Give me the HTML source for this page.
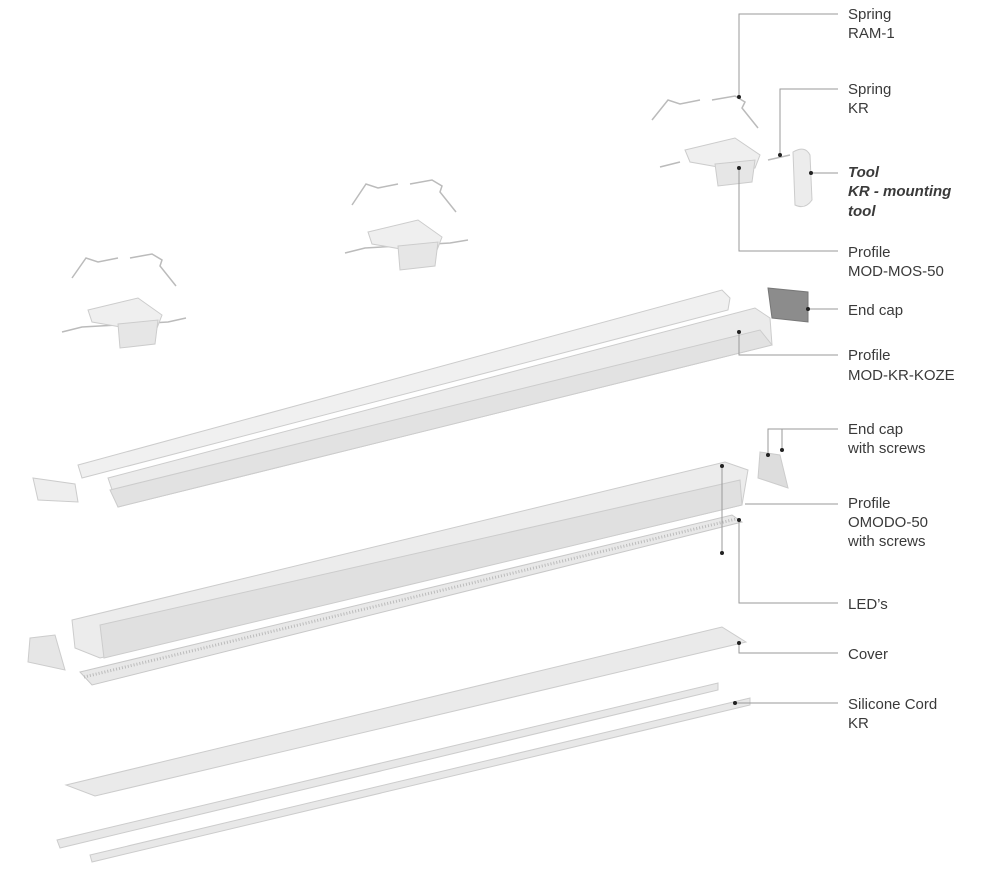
<!DOCTYPE html>
<html><head><meta charset="utf-8"><style>
html,body{margin:0;padding:0;background:#fff;}
svg{display:block}
text{font-family:"Liberation Sans",sans-serif;font-size:15px;fill:#3a3a3a}
</style></head><body>
<svg width="996" height="870" viewBox="0 0 996 870" xmlns="http://www.w3.org/2000/svg">
<!-- clips -->
<g fill="none" stroke="#bbb" stroke-width="1.5">
<path d="M652,120 L668,100 L680,104 L700,100 M712,100 L735,96 L745,102 L742,108 L758,128"/>
<path d="M352,205 L366,184 L378,188 L398,184 M410,184 L432,180 L442,186 L440,192 L456,212"/>
<path d="M72,278 L86,258 L98,262 L118,258 M130,258 L152,254 L162,260 L160,266 L176,286"/>
<path d="M660,167 L680,162 M768,160 L790,155 M345,253 L365,248 L450,243 L468,240 M62,332 L82,327 L168,322 L186,318"/>
</g>
<g stroke="#ccc" stroke-width="1">
<polygon points="685,150 735,138 760,155 755,168 735,170 690,162" fill="#efefef"/>
<polygon points="715,164 755,160 752,182 718,186" fill="#e6e6e6"/>
<polygon points="368,232 418,220 442,237 437,250 418,252 372,244" fill="#efefef"/>
<polygon points="398,246 438,242 435,266 400,270" fill="#e6e6e6"/>
<polygon points="88,310 138,298 162,315 157,328 138,330 92,322" fill="#efefef"/>
<polygon points="118,324 158,320 155,344 120,348" fill="#e6e6e6"/>
<path d="M793,152 Q805,145 810,155 L812,200 Q805,210 795,205 Z" fill="#ececec"/>
<polygon points="768,288 808,292 808,322 772,318" fill="#8c8c8c" stroke="#777"/>
<polygon points="78,465 722,290 730,298 728,310 82,478" fill="#f0f0f0"/>
<polygon points="108,478 755,308 770,318 772,345 118,507" fill="#ebebeb"/>
<polygon points="110,490 760,330 772,345 118,507" fill="#e2e2e2"/>
<polygon points="33,478 75,484 78,502 38,500" fill="#eee"/>
<polygon points="760,452 780,455 788,488 758,478" fill="#ddd"/>
<polygon points="72,620 725,462 748,470 742,505 100,658 75,648" fill="#ececec"/>
<polygon points="100,625 740,480 742,505 104,658" fill="#e0e0e0"/>
<polygon points="30,638 55,635 65,670 28,662" fill="#e6e6e6"/>
<polygon points="80,672 732,515 742,522 92,685" fill="#e8e8e8" stroke="#c8c8c8"/>
<line x1="84" y1="677" x2="736" y2="519" stroke="#bbb" stroke-dasharray="1 2" stroke-width="3"/>
<polygon points="66,785 722,627 746,642 95,796" fill="#eaeaea"/>
<polygon points="57,840 718,683 718,690 60,848" fill="#e8e8e8"/>
<polygon points="90,855 750,698 750,705 92,862" fill="#e8e8e8"/>
</g>
<g fill="none" stroke="#9a9a9a" stroke-width="1">
<polyline points="739,97 739,14 838,14"/>
<polyline points="780,155 780,89 838,89"/>
<polyline points="811,173 838,173"/>
<polyline points="739,168 739,251 838,251"/>
<polyline points="808,309 838,309"/>
<polyline points="739,332 739,355 838,355"/>
<polyline points="768,455 768,429 838,429"/>
<polyline points="782,450 782,429"/>
<polyline points="745,504 838,504"/>
<polyline points="722,466 722,553"/>
<polyline points="739,520 739,603 838,603"/>
<polyline points="739,643 739,653 838,653"/>
<polyline points="735,703 838,703"/>
</g>
<g fill="#222">
<circle cx="739" cy="97" r="2"/><circle cx="780" cy="155" r="2"/><circle cx="811" cy="173" r="2"/>
<circle cx="739" cy="168" r="2"/><circle cx="808" cy="309" r="2"/><circle cx="739" cy="332" r="2"/>
<circle cx="768" cy="455" r="2"/><circle cx="782" cy="450" r="2"/><circle cx="722" cy="466" r="2"/>
<circle cx="722" cy="553" r="2"/><circle cx="739" cy="520" r="2"/><circle cx="739" cy="643" r="2"/>
<circle cx="735" cy="703" r="2"/>
</g>
<text x="848" y="19">Spring</text><text x="848" y="38">RAM-1</text>
<text x="848" y="94">Spring</text><text x="848" y="113">KR</text>
<text x="848" y="177" font-weight="bold" font-style="italic">Tool</text><text x="848" y="196" font-weight="bold" font-style="italic">KR - mounting</text><text x="848" y="216" font-weight="bold" font-style="italic">tool</text>
<text x="848" y="257">Profile</text><text x="848" y="276">MOD-MOS-50</text>
<text x="848" y="315">End cap</text>
<text x="848" y="360">Profile</text><text x="848" y="380">MOD-KR-KOZE</text>
<text x="848" y="434">End cap</text><text x="848" y="453">with screws</text>
<text x="848" y="508">Profile</text><text x="848" y="527">OMODO-50</text><text x="848" y="546">with screws</text>
<text x="848" y="609">LED’s</text>
<text x="848" y="659">Cover</text>
<text x="848" y="709">Silicone Cord</text><text x="848" y="728">KR</text>
</svg>
</body></html>
